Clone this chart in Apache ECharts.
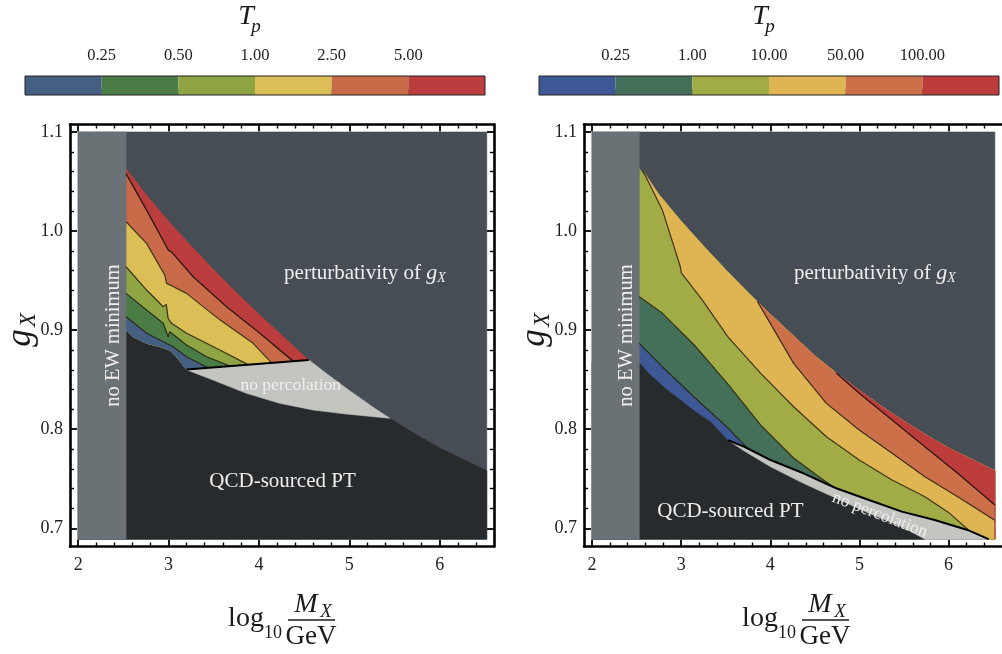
<!DOCTYPE html>
<html>
<head>
<meta charset="utf-8">
<script src="https://cdn.jsdelivr.net/npm/echarts@6/dist/echarts.min.js"></script>
<style>
html, body { margin: 0; padding: 0; background: #ffffff; }
#chart { width: 1002px; height: 654px; }
</style>
</head>
<body>
<div id="chart"></div>
<script>
// ---------------- data ----------------
const xTicks = [2, 3, 4, 5, 6];
const xMinorTicks = [2.2, 2.4, 2.6, 2.8, 3.2, 3.4, 3.6, 3.8, 4.2, 4.4, 4.6, 4.8, 5.2, 5.4, 5.6, 5.8, 6.2, 6.4];
const yTicks = [0.7, 0.8, 0.9, 1.0, 1.1];
const yMinorTicks = [0.72, 0.74, 0.76, 0.78, 0.82, 0.84, 0.86, 0.88, 0.92, 0.94, 0.96, 0.98, 1.02, 1.04, 1.06, 1.08];

// colour-bar bins of T_p (boundary labels)
const tpLabelsL = ['0.25', '0.50', '1.00', '2.50', '5.00'];
const tpLabelsR = ['0.25', '1.00', '10.00', '50.00', '100.00'];
const tpColorsL = ['#445f82', '#4a7c46', '#8fa443', '#dbbe55', '#c96b48', '#bb3d3d'];
const tpColorsR = ['#3e5896', '#44705a', '#a1ac46', '#dfb452', '#cb7048', '#bc3c3c'];

// perturbativity bound on g_X (same in both panels)
const pertBound = [[2.53, 1.063], [2.75, 1.037], [3.0, 1.010], [3.25, 0.985], [3.5, 0.961], [3.75, 0.938],
  [4.0, 0.916], [4.25, 0.895], [4.5, 0.874], [4.75, 0.856], [5.0, 0.839], [5.25, 0.823], [5.5, 0.808],
  [5.75, 0.794], [6.0, 0.781], [6.25, 0.770], [6.52, 0.758]];

// ---- left panel ----
const qcdEdgeL = [[2.53, 0.9003], [2.608, 0.8934], [2.757, 0.8867], [2.904, 0.8833], [3.014, 0.8799], [3.088, 0.8732], [3.199, 0.8600]];
const noPercTopL = [[3.199, 0.8604], [4.552, 0.8699]];
const noPercBottomL = [[3.199, 0.8600], [3.493, 0.8496], [3.863, 0.8362], [4.231, 0.8261], [4.600, 0.8194], [4.969, 0.8153], [5.448, 0.8110]];
const contourL_5 = [[2.53, 1.058], [2.757, 1.0212], [2.978, 0.9842], [3.0, 0.9805], [3.033, 0.9790], [3.272, 0.9539], [3.642, 0.9236], [4.010, 0.8968], [4.378, 0.8687]];
const contourL_2p5 = [[2.53, 1.0094], [2.757, 0.9876], [2.959, 0.9555], [2.978, 0.9472], [3.05, 0.9440], [3.199, 0.9371], [3.567, 0.9104], [3.936, 0.8867], [4.139, 0.8670]];
const contourL_1 = [[2.53, 0.964], [2.757, 0.9405], [2.941, 0.9236], [2.975, 0.9260], [2.995, 0.9120], [3.033, 0.9069], [3.199, 0.8968], [3.567, 0.8799], [3.880, 0.8652]];
const contourL_0p5 = [[2.53, 0.9371], [2.757, 0.9203], [2.941, 0.9069], [2.996, 0.8933], [3.014, 0.8984], [3.199, 0.8850], [3.420, 0.8732], [3.678, 0.8638]];
const contourL_0p25 = [[2.53, 0.9135], [2.757, 0.8968], [2.941, 0.8883], [3.05, 0.8833], [3.199, 0.8732], [3.437, 0.8621]];

// ---- right panel ----
const qcdEdgeR = [[2.53, 0.8678], [2.641, 0.8564], [2.825, 0.8416], [2.972, 0.8315], [3.157, 0.8184], [3.34, 0.8073], [3.525, 0.789]];
const noPercTopR = [[3.525, 0.789], [3.709, 0.7823], [4.003, 0.7689], [4.372, 0.7555], [4.740, 0.7404], [5.108, 0.7286],
  [5.477, 0.7168], [5.845, 0.7084], [6.213, 0.6983], [6.45, 0.689]];
const noPercBottomR = [[3.525, 0.789], [3.709, 0.778], [4.003, 0.7622], [4.372, 0.7454], [4.740, 0.7303], [5.108, 0.7151], [5.477, 0.7016], [5.735, 0.689]];
const contourR_0p25 = [[2.53, 0.8867], [2.788, 0.8631], [3.157, 0.8315], [3.525, 0.8012], [3.746, 0.7806]];
const contourR_1 = [[2.53, 0.9337], [2.788, 0.9172], [3.157, 0.884], [3.525, 0.8456], [3.893, 0.8042], [4.262, 0.7709], [4.519, 0.7538], [4.704, 0.742]];
const contourR_10 = [[2.567, 1.0616], [2.788, 1.0216], [2.991, 0.964], [3.0, 0.958], [3.230, 0.9313], [3.525, 0.8933], [3.893, 0.8564],
  [4.262, 0.8227], [4.630, 0.7924], [4.998, 0.7689], [5.367, 0.7487], [5.735, 0.7319], [6.0, 0.716], [6.22, 0.6985]];
const contourR_50 = [[3.856, 0.929], [4.262, 0.8665], [4.630, 0.8261], [4.998, 0.7992], [5.367, 0.7757], [5.735, 0.7521], [6.103, 0.7319], [6.52, 0.708]];
const contourR_100 = [[4.74, 0.8567], [4.998, 0.8362], [5.367, 0.8093], [5.735, 0.7823], [6.103, 0.7555], [6.52, 0.7235]];

// ---------------- layout constants ----------------
const SERIF = '"Liberation Serif", "DejaVu Serif", serif';
const X_FRAME = [1.91, 6.6];        // framed axis range (frame sits outside the data region)
const Y_FRAME = [0.6816, 1.1076];
const X_DATA = [2, 6.52];
const Y_DATA = [0.689, 1.1];
const EW_EDGE = 2.53;

const COL_PERT = '#474d54';
const COL_EW = '#6b7276';
const COL_QCD = '#282b2e';
const COL_NOPERC = '#c4c5c1';
const COL_CONTOUR = 'rgba(38,30,18,0.85)';
const COL_TEXT = '#eeeeee';

// ---------------- region polygons ----------------
const rev = a => a.slice().reverse();
const last = a => a[a.length - 1];
const rectPts = (x0, x1, y0, y1) => [[x0, y0], [x1, y0], [x1, y1], [x0, y1]];

// left: each band fills everything below its upper contour down to the QCD edge
function bandBelowL(top) { return [...top, noPercTopL[0], ...rev(qcdEdgeL)]; }
const redTopL = [...pertBound.filter(p => p[0] < last(noPercTopL)[0]), last(noPercTopL)];
const polysL = [
  { pts: rectPts(X_DATA[0], X_DATA[1], Y_DATA[0], Y_DATA[1]), color: COL_PERT },
  { pts: [[X_DATA[0], Y_DATA[0]], [X_DATA[0], qcdEdgeL[0][1]], ...qcdEdgeL, ...noPercBottomL,
      ...pertBound.filter(p => p[0] > last(noPercBottomL)[0]), [X_DATA[1], Y_DATA[0]]], color: COL_QCD },
  { pts: [...noPercTopL, ...pertBound.filter(p => p[0] > last(noPercTopL)[0] && p[0] < last(noPercBottomL)[0]),
      ...rev(noPercBottomL)], color: COL_NOPERC },
  { pts: bandBelowL(redTopL), color: tpColorsL[5] },
  { pts: bandBelowL(contourL_5), color: tpColorsL[4] },
  { pts: bandBelowL(contourL_2p5), color: tpColorsL[3] },
  { pts: bandBelowL(contourL_1), color: tpColorsL[2] },
  { pts: bandBelowL(contourL_0p5), color: tpColorsL[1] },
  { pts: bandBelowL(contourL_0p25), color: tpColorsL[0] },
  { pts: rectPts(X_DATA[0], EW_EDGE, Y_DATA[0], Y_DATA[1]), color: COL_EW }
];

// right: each band fills everything above its lower contour up to the perturbativity bound
function bandAboveR(line) {
  const end = last(line);
  const pEnd = last(pertBound);
  return [...line, ...noPercTopR.filter(p => p[0] > end[0]), [pEnd[0], Y_DATA[0]], pEnd,
    ...rev(pertBound.filter(p => p[0] >= line[0][0]))];
}
const polysR = [
  { pts: rectPts(X_DATA[0], X_DATA[1], Y_DATA[0], Y_DATA[1]), color: COL_PERT },
  { pts: [[X_DATA[0], Y_DATA[0]], [X_DATA[0], qcdEdgeR[0][1]], ...qcdEdgeR, ...noPercBottomR], color: COL_QCD },
  { pts: [...noPercTopR, ...rev(noPercBottomR)], color: COL_NOPERC },
  { pts: [...pertBound, [last(pertBound)[0], Y_DATA[0]], ...rev(noPercTopR), ...rev(qcdEdgeR)], color: tpColorsR[0] },
  { pts: bandAboveR(contourR_0p25), color: tpColorsR[1] },
  { pts: bandAboveR(contourR_1), color: tpColorsR[2] },
  { pts: bandAboveR(contourR_10), color: tpColorsR[3] },
  { pts: bandAboveR(contourR_50), color: tpColorsR[4] },
  { pts: bandAboveR(contourR_100), color: tpColorsR[5] },
  { pts: rectPts(X_DATA[0], EW_EDGE, Y_DATA[0], Y_DATA[1]), color: COL_EW }
];

// ---------------- text inside panels ----------------
const gxRich = {
  n: { fontFamily: SERIF, fontSize: 21, fill: COL_TEXT },
  g: { fontFamily: SERIF, fontSize: 22, fontStyle: 'italic', fill: COL_TEXT },
  s: { fontFamily: SERIF, fontSize: 14, fontStyle: 'italic', fill: COL_TEXT, padding: [10, 0, 0, 0] }
};
const labelsL = [
  { at: [2.39, 0.8946], text: 'no EW minimum', size: 20.5, rotate: 90 },
  { at: [5.173, 0.9576], text: '{n|perturbativity of }{g|g}{s|X}', rich: gxRich, size: 21 },
  { at: [4.352, 0.8439], text: 'no percolation', size: 17.5 },
  { at: [4.261, 0.747], text: 'QCD-sourced PT', size: 21 }
];
const labelsR = [
  { at: [2.39, 0.8946], text: 'no EW minimum', size: 20.5, rotate: 90 },
  { at: [5.173, 0.9576], text: '{n|perturbativity of }{g|g}{s|X}', rich: gxRich, size: 21 },
  { at: [5.229, 0.7134], text: 'no percolation', size: 17.5, rotate: -21 },
  { at: [3.553, 0.7168], text: 'QCD-sourced PT', size: 21 }
];

// ---------------- chart ----------------
const chart = echarts.init(document.getElementById('chart'));

const grids = [
  { left: 25, top: 76, width: 460, height: 19 },      // left colour bar
  { left: 539, top: 76, width: 460, height: 19 },     // right colour bar
  { left: 70, top: 124.5, width: 424, height: 422 },  // left panel frame
  { left: 584, top: 124.5, width: 424, height: 422 }  // right panel frame
];

function colorbarXAxis(gridIndex, labels) {
  const vals = labels.map((_, i) => i + 1);
  return {
    type: 'value', gridIndex, position: 'top', min: 0, max: labels.length + 1,
    splitLine: { show: false }, axisLine: { show: false },
    axisTick: { show: true, inside: false, length: 6, customValues: vals, lineStyle: { color: '#666', width: 1 } },
    axisLabel: { show: true, customValues: vals, formatter: v => labels[Math.round(v) - 1], margin: 12,
      fontFamily: SERIF, fontSize: 16.5, color: '#222' }
  };
}
function hiddenAxis(gridIndex) {
  return { type: 'value', gridIndex, min: 0, max: 1, show: false };
}
function frameAxis(gridIndex, position, range, ticks, major, labelled, fmt, visible) {
  return {
    type: 'value', gridIndex, position, min: range[0], max: range[1], show: visible !== false,
    splitLine: { show: false },
    axisLine: { show: major, onZero: false, lineStyle: { color: '#000', width: 2.6 } },
    axisTick: { show: true, inside: true, length: major ? 7 : 4, customValues: ticks,
      lineStyle: { color: '#000', width: major ? 1.8 : 1.4 } },
    axisLabel: { show: labelled, customValues: ticks, formatter: fmt,
      margin: position === 'bottom' ? 10 : 7, fontFamily: SERIF, fontSize: 18, color: '#222' }
  };
}
function frameXAxes(g) {
  const f = v => String(Math.round(v));
  return [
    frameAxis(g, 'bottom', X_FRAME, xTicks, true, true, f),
    frameAxis(g, 'bottom', X_FRAME, xMinorTicks, false, false, f),
    frameAxis(g, 'top', X_FRAME, xTicks, true, false, f),
    frameAxis(g, 'top', X_FRAME, xMinorTicks, false, false, f)
  ];
}
// the right-hand frame side of the second panel lies past the page edge
function frameYAxes(g, rightVisible) {
  const f = v => v.toFixed(1);
  return [
    frameAxis(g, 'left', Y_FRAME, yTicks, true, true, f),
    frameAxis(g, 'left', Y_FRAME, yMinorTicks, false, false, f),
    frameAxis(g, 'right', Y_FRAME, yTicks, true, false, f, rightVisible),
    frameAxis(g, 'right', Y_FRAME, yMinorTicks, false, false, f, rightVisible)
  ];
}

const xAxes = [colorbarXAxis(0, tpLabelsL), colorbarXAxis(1, tpLabelsR), ...frameXAxes(2), ...frameXAxes(3)];
const yAxes = [hiddenAxis(0), hiddenAxis(1), ...frameYAxes(2, true), ...frameYAxes(3, false)];
const AX_L = 2, AX_R = 6;   // primary axis index of each panel

function colorbarSeries(axis, colors) {
  return [{
    type: 'custom', xAxisIndex: axis, yAxisIndex: axis, silent: true, z: 2,
    data: colors.map((c, i) => [i, i + 1]),
    renderItem: (params, api) => {
      const p0 = api.coord([api.value(0), 0]);
      const p1 = api.coord([api.value(1), 1]);
      return { type: 'rect', shape: { x: p0[0], y: p1[1], width: p1[0] - p0[0], height: p0[1] - p1[1] },
        style: { fill: colors[params.dataIndex] } };
    }
  }, {
    type: 'custom', xAxisIndex: axis, yAxisIndex: axis, silent: true, z: 3,
    data: [[0, colors.length]],
    renderItem: (params, api) => {
      const p0 = api.coord([api.value(0), 0]);
      const p1 = api.coord([api.value(1), 1]);
      return { type: 'rect', shape: { x: p0[0], y: p1[1], width: p1[0] - p0[0], height: p0[1] - p1[1] },
        style: { fill: 'none', stroke: '#222', lineWidth: 1 } };
    }
  }];
}

function polySeries(axis, polys) {
  return polys.map((poly, k) => ({
    type: 'custom', xAxisIndex: axis, yAxisIndex: axis, silent: true, z: 2,
    data: [poly.pts[0]],
    renderItem: (params, api) => ({
      type: 'polygon', z2: k,
      shape: { points: poly.pts.map(p => api.coord(p)) },
      style: { fill: poly.color, stroke: poly.color, lineWidth: 0.6 }
    })
  }));
}

function lineSeries(axis, pts, color, width) {
  return {
    type: 'line', xAxisIndex: axis, yAxisIndex: axis, data: pts, silent: true, z: 4,
    symbol: 'none', showSymbol: false, smooth: false,
    lineStyle: { color, width }
  };
}

function labelSeries(axis, items) {
  return {
    type: 'custom', xAxisIndex: axis, yAxisIndex: axis, silent: true, z: 6,
    data: items.map(it => it.at),
    renderItem: (params, api) => {
      const it = items[params.dataIndex];
      const pt = api.coord([api.value(0), api.value(1)]);
      return {
        type: 'text', x: pt[0], y: pt[1], rotation: (it.rotate || 0) * Math.PI / 180,
        style: { text: it.text, rich: it.rich, fill: COL_TEXT, fontFamily: SERIF, fontSize: it.size,
          align: 'center', verticalAlign: 'middle' }
      };
    }
  };
}

const series = [
  ...colorbarSeries(0, tpColorsL),
  ...colorbarSeries(1, tpColorsR),
  ...polySeries(AX_L, polysL),
  lineSeries(AX_L, contourL_5, 'rgba(35,15,15,0.9)', 1.4),
  lineSeries(AX_L, contourL_2p5, COL_CONTOUR, 1.2),
  lineSeries(AX_L, contourL_1, COL_CONTOUR, 1.2),
  lineSeries(AX_L, contourL_0p5, COL_CONTOUR, 1.2),
  lineSeries(AX_L, contourL_0p25, COL_CONTOUR, 1.2),
  lineSeries(AX_L, noPercTopL, '#000', 2),
  labelSeries(AX_L, labelsL),
  ...polySeries(AX_R, polysR),
  lineSeries(AX_R, contourR_0p25, COL_CONTOUR, 1.2),
  lineSeries(AX_R, contourR_1, COL_CONTOUR, 1.2),
  lineSeries(AX_R, contourR_10, COL_CONTOUR, 1.2),
  lineSeries(AX_R, contourR_50, COL_CONTOUR, 1.2),
  lineSeries(AX_R, contourR_100, 'rgba(35,15,15,0.9)', 1.3),
  lineSeries(AX_R, noPercTopR, '#000', 2),
  labelSeries(AX_R, labelsR)
];

// axis titles and colour-bar titles
function txt(x, y, text, size, italic, extra) {
  return Object.assign({ type: 'text', x, y, silent: true,
    style: { text, fontFamily: SERIF, fontSize: size, fontStyle: italic ? 'italic' : 'normal', fill: '#1a1a1a',
      align: 'center', verticalAlign: 'middle' } }, extra || {});
}
function panelDecor(dx, tx) {
  return [
    // colour-bar title T_p
    txt(tx, 17, 'T', 28, true),
    txt(tx + 10, 27, 'p', 19, true),
    // vertical axis title g_X
    { type: 'group', x: 21 + dx, y: 331, rotation: Math.PI / 2, silent: true,
      children: [txt(-7, 0, 'g', 35, true), txt(11, 8, 'X', 23, true)] },
    // horizontal axis title log10 (M_X / GeV)
    txt(246 + dx, 619, 'log', 28, false),
    txt(273 + dx, 633, '10', 18, false),
    { type: 'line', silent: true, shape: { x1: 288 + dx, y1: 620, x2: 335 + dx, y2: 620 },
      style: { stroke: '#1a1a1a', lineWidth: 1.3 } },
    txt(306 + dx, 605, 'M', 28, true),
    txt(326 + dx, 612, 'X', 19, true),
    txt(311 + dx, 637, 'GeV', 27, false)
  ];
}

chart.setOption({
  animation: false,
  backgroundColor: '#ffffff',
  grid: grids,
  xAxis: xAxes,
  yAxis: yAxes,
  series,
  graphic: { elements: [...panelDecor(0, 246), ...panelDecor(514, 760)] }
});
</script>
</body>
</html>
